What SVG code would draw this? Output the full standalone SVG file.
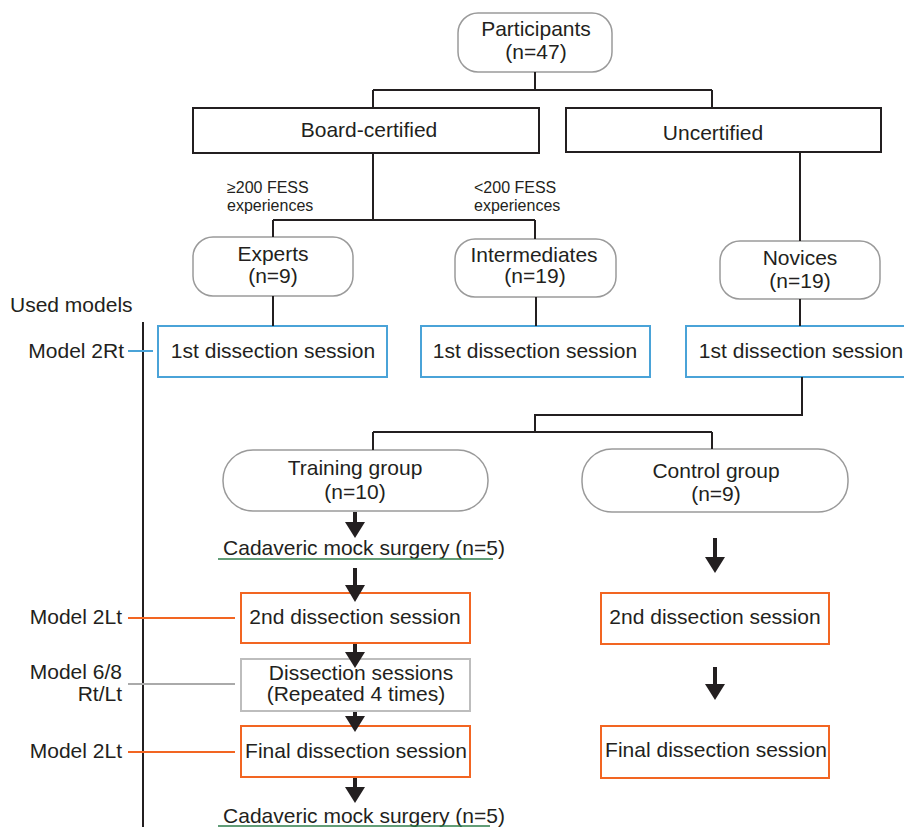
<svg xmlns="http://www.w3.org/2000/svg" width="904" height="827" viewBox="0 0 904 827">
<style>
text{font-family:"Liberation Sans",Arial,sans-serif;fill:#231f20;}
.t{font-size:21px;text-anchor:middle;}
.s{font-size:16px;}
.m{font-size:21px;text-anchor:end;}
.round{fill:#fff;stroke:#9a9a9a;stroke-width:1.5;}
.sq{fill:#fff;stroke:#231f20;stroke-width:2;}
.blue{fill:#fff;stroke:#4aa3d8;stroke-width:2;}
.org{fill:#fff;stroke:#f26522;stroke-width:2;}
.gray{fill:#fff;stroke:#bdbdbd;stroke-width:2;}
.ln{fill:none;stroke:#231f20;stroke-width:2;}
.arrow{fill:#231f20;stroke:none;}
.ul{stroke:#2e7d4a;stroke-width:1.6;}
</style>

<g id="participants">
<rect class="round" x="458" y="13" width="154" height="59" rx="20"/>
<text class="t" x="536" y="36">Participants</text>
<text class="t" x="536" y="59">(n=47)</text>
</g>
<g id="board-certified">
<rect class="sq" x="193" y="108" width="346" height="45"/>
<text class="t" x="369" y="137">Board-certified</text>
</g>
<g id="uncertified">
<rect class="sq" x="566" y="108" width="315" height="44"/>
<text class="t" x="713" y="140">Uncertified</text>
</g>
<g id="label-ge200">
<text class="s" x="227" y="193">≥200 FESS</text>
<text class="s" x="227" y="211">experiences</text>
</g>
<g id="label-lt200">
<text class="s" x="474" y="193">&lt;200 FESS</text>
<text class="s" x="474" y="211">experiences</text>
</g>
<g id="experts">
<rect class="round" x="193" y="237" width="160" height="59" rx="20"/>
<text class="t" x="273" y="261">Experts</text>
<text class="t" x="273" y="283">(n=9)</text>
</g>
<g id="intermediates">
<rect class="round" x="455" y="239" width="161" height="58" rx="20"/>
<text class="t" x="534" y="262">Intermediates</text>
<text class="t" x="535" y="283">(n=19)</text>
</g>
<g id="novices">
<rect class="round" x="720" y="241" width="160" height="58" rx="20"/>
<text class="t" x="800" y="265">Novices</text>
<text class="t" x="800" y="288">(n=19)</text>
</g>
<g id="used-models">
<text x="10" y="312" style="font-size:21px">Used models</text>
<text class="m" x="124" y="358">Model 2Rt</text>
<text class="m" x="122" y="624">Model 2Lt</text>
<text class="m" x="122" y="679">Model 6/8</text>
<text class="m" x="122" y="701">Rt/Lt</text>
<text class="m" x="122" y="758">Model 2Lt</text>
</g>
<g id="first-experts">
<rect class="blue" x="158" y="326" width="229" height="51"/>
<text class="t" x="273" y="358">1st dissection session</text>
</g>
<g id="first-intermediates">
<rect class="blue" x="421" y="326" width="229" height="51"/>
<text class="t" x="535" y="358">1st dissection session</text>
</g>
<g id="first-novices">
<rect class="blue" x="686" y="326" width="229" height="51"/>
<text class="t" x="801" y="358">1st dissection session</text>
</g>
<g id="training-group">
<rect class="round" x="223" y="450" width="265" height="61" rx="30"/>
<text class="t" x="355" y="475">Training group</text>
<text class="t" x="355" y="499">(n=10)</text>
</g>
<g id="control-group">
<rect class="round" x="582" y="449" width="266" height="63" rx="30"/>
<text class="t" x="716" y="478">Control group</text>
<text class="t" x="716" y="501">(n=9)</text>
</g>
<g id="cadaveric-1">
<text class="t" x="364" y="555">Cadaveric mock surgery (n=5)</text>
<line class="ul" x1="218" y1="559" x2="493" y2="559"/>
</g>
<g id="second-training">
<rect class="org" x="241" y="593" width="229" height="50"/>
<text class="t" x="355" y="624">2nd dissection session</text>
</g>
<g id="repeated-sessions">
<rect class="gray" x="241" y="659" width="229" height="52"/>
<text class="t" x="361" y="680">Dissection sessions</text>
<text class="t" x="356" y="701">(Repeated 4 times)</text>
</g>
<g id="final-training">
<rect class="org" x="241" y="726" width="229" height="51"/>
<text class="t" x="356" y="758">Final dissection session</text>
</g>
<g id="cadaveric-2">
<text class="t" x="364" y="823">Cadaveric mock surgery (n=5)</text>
<line class="ul" x1="218" y1="826" x2="490" y2="826"/>
</g>
<g id="second-control">
<rect class="org" x="601" y="593" width="228" height="51"/>
<text class="t" x="715" y="624">2nd dissection session</text>
</g>
<g id="final-control">
<rect class="org" x="601" y="726" width="228" height="52"/>
<text class="t" x="716" y="757">Final dissection session</text>
</g>

<g id="connectors">
<path class="ln" d="M535,72 V90 M373,90 H712 M373,90 V108 M712,90 V108"/>
<path class="ln" d="M373,153 V220 M273,220 H535 M273,220 V237 M535,220 V239"/>
<path class="ln" d="M800,152 V241"/>
<path class="ln" d="M273,296 V326 M536,297 V326 M800,299 V326"/>
<path class="ln" d="M802,377 V415 H535 V432 M373,432 H712 M373,432 V450 M712,432 V449"/>
<path class="arrow" d="M353,512 H357 V522 H365 L355,538 L345,522 H353 Z"/>
<path class="arrow" d="M353,568 H357 V585 H365 L355,602 L345,585 H353 Z"/>
<path class="arrow" d="M353,644 H357 V652 H365 L355,668 L345,652 H353 Z"/>
<path class="arrow" d="M353,712 H357 V716 H365 L355,732 L345,716 H353 Z"/>
<path class="arrow" d="M353,778 H357 V787 H365 L355,803 L345,787 H353 Z"/>
<path class="arrow" d="M713,538 H717 V557 H725 L715,573 L705,557 H713 Z"/>
<path class="arrow" d="M713,667 H717 V684 H725 L715,700 L705,684 H713 Z"/>
<line x1="143" y1="322" x2="143" y2="827" stroke="#231f20" stroke-width="2"/>
<line x1="128" y1="351" x2="153" y2="351" stroke="#4aa3d8" stroke-width="2"/>
<line x1="128" y1="618" x2="235" y2="618" stroke="#f26522" stroke-width="2"/>
<line x1="128" y1="684" x2="235" y2="684" stroke="#aaaaaa" stroke-width="2"/>
<line x1="128" y1="752" x2="235" y2="752" stroke="#f26522" stroke-width="2"/>
</g>
</svg>
